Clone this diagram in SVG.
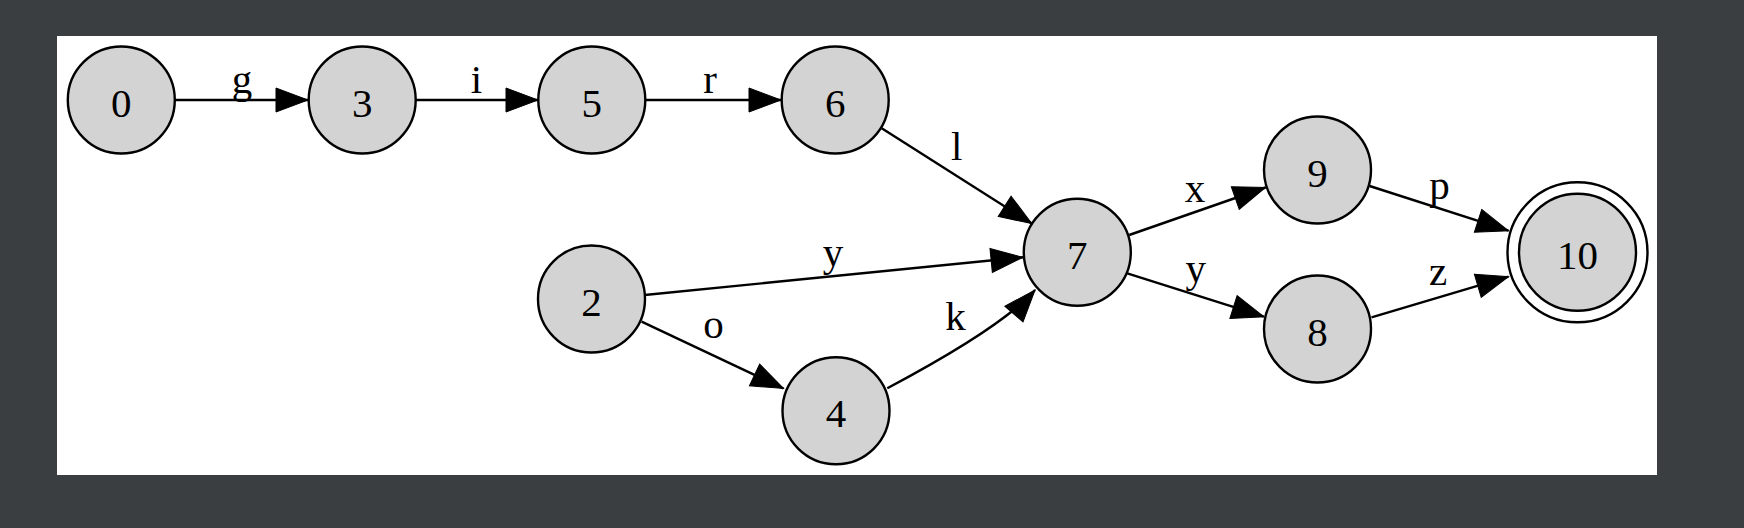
<svg xmlns="http://www.w3.org/2000/svg" width="1744" height="528" viewBox="0 0 1744 528">
<style>
.node circle{fill:#d3d3d3;stroke:#000;stroke-width:2.4}
.node circle.outer{fill:none}
.node text,.lbl{font-family:"Liberation Serif",serif;font-size:41px;fill:#000;text-anchor:middle}
.edge{fill:none;stroke:#000;stroke-width:2.4;marker-end:url(#ah)}
</style>
<defs>
<marker id="ah" markerUnits="userSpaceOnUse" markerWidth="36" markerHeight="28" viewBox="0 0 36 28" refX="33" refY="14" orient="auto">
<path d="M1,2 L33,14 L1,26 z" fill="#000" stroke="#000" stroke-width="1"/>
</marker>
</defs>
<rect width="1744" height="528" fill="#3b3e41"/>
<rect x="57" y="36" width="1600" height="439" fill="#fff"/>
<g id="connectors">
<path class="edge" d="M175,100 L308,100"/>
<path class="edge" d="M415,100 L538,100"/>
<path class="edge" d="M645,100 L781,100"/>
<path class="edge" d="M881.7,128.3 L1031.7,223.5"/>
<path class="edge" d="M644.7,295 L1023,257.3"/>
<path class="edge" d="M641.6,321.7 L783.5,388.5"/>
<path class="edge" d="M887.3,388.3 Q1002.85,326.85 1035,290"/>
<path class="edge" d="M1129.2,235 L1265.5,187.5"/>
<path class="edge" d="M1127.3,273.3 L1264,316.7"/>
<path class="edge" d="M1369.6,186 L1508.5,230.7"/>
<path class="edge" d="M1371.5,317.3 L1508.5,276.7"/>
<text class="lbl" x="242" y="93">g</text>
<text class="lbl" x="476.5" y="93">i</text>
<text class="lbl" x="710" y="93">r</text>
<text class="lbl" x="956.7" y="160">l</text>
<text class="lbl" x="833" y="266">y</text>
<text class="lbl" x="713.5" y="338">o</text>
<text class="lbl" x="955.4" y="330">k</text>
<text class="lbl" x="1195" y="201.7">x</text>
<text class="lbl" x="1195.7" y="282">y</text>
<text class="lbl" x="1439.4" y="199">p</text>
<text class="lbl" x="1438" y="285">z</text>
</g>
<g id="n0" class="node"><circle cx="121.3" cy="100" r="53.5"/><text x="121.3" y="116.7">0</text></g>
<g id="n3" class="node"><circle cx="362.2" cy="100" r="53.5"/><text x="362.2" y="116.7">3</text></g>
<g id="n5" class="node"><circle cx="591.8" cy="100" r="53.5"/><text x="591.8" y="116.7">5</text></g>
<g id="n6" class="node"><circle cx="835.2" cy="100" r="53.5"/><text x="835.2" y="116.7">6</text></g>
<g id="n2" class="node"><circle cx="591.5" cy="299" r="53.5"/><text x="591.5" y="315.7">2</text></g>
<g id="n4" class="node"><circle cx="836" cy="410.7" r="53.5"/><text x="836" y="427.4">4</text></g>
<g id="n7" class="node"><circle cx="1077.3" cy="252.3" r="53.5"/><text x="1077.3" y="269">7</text></g>
<g id="n9" class="node"><circle cx="1317.5" cy="170" r="53.5"/><text x="1317.5" y="186.7">9</text></g>
<g id="n8" class="node"><circle cx="1317.5" cy="329" r="53.5"/><text x="1317.5" y="345.7">8</text></g>
<g id="n10" class="node"><circle cx="1577.5" cy="252.3" r="58.5"/><circle class="outer" cx="1577.5" cy="252.3" r="70"/><text x="1577.5" y="269">10</text></g>
</svg>
